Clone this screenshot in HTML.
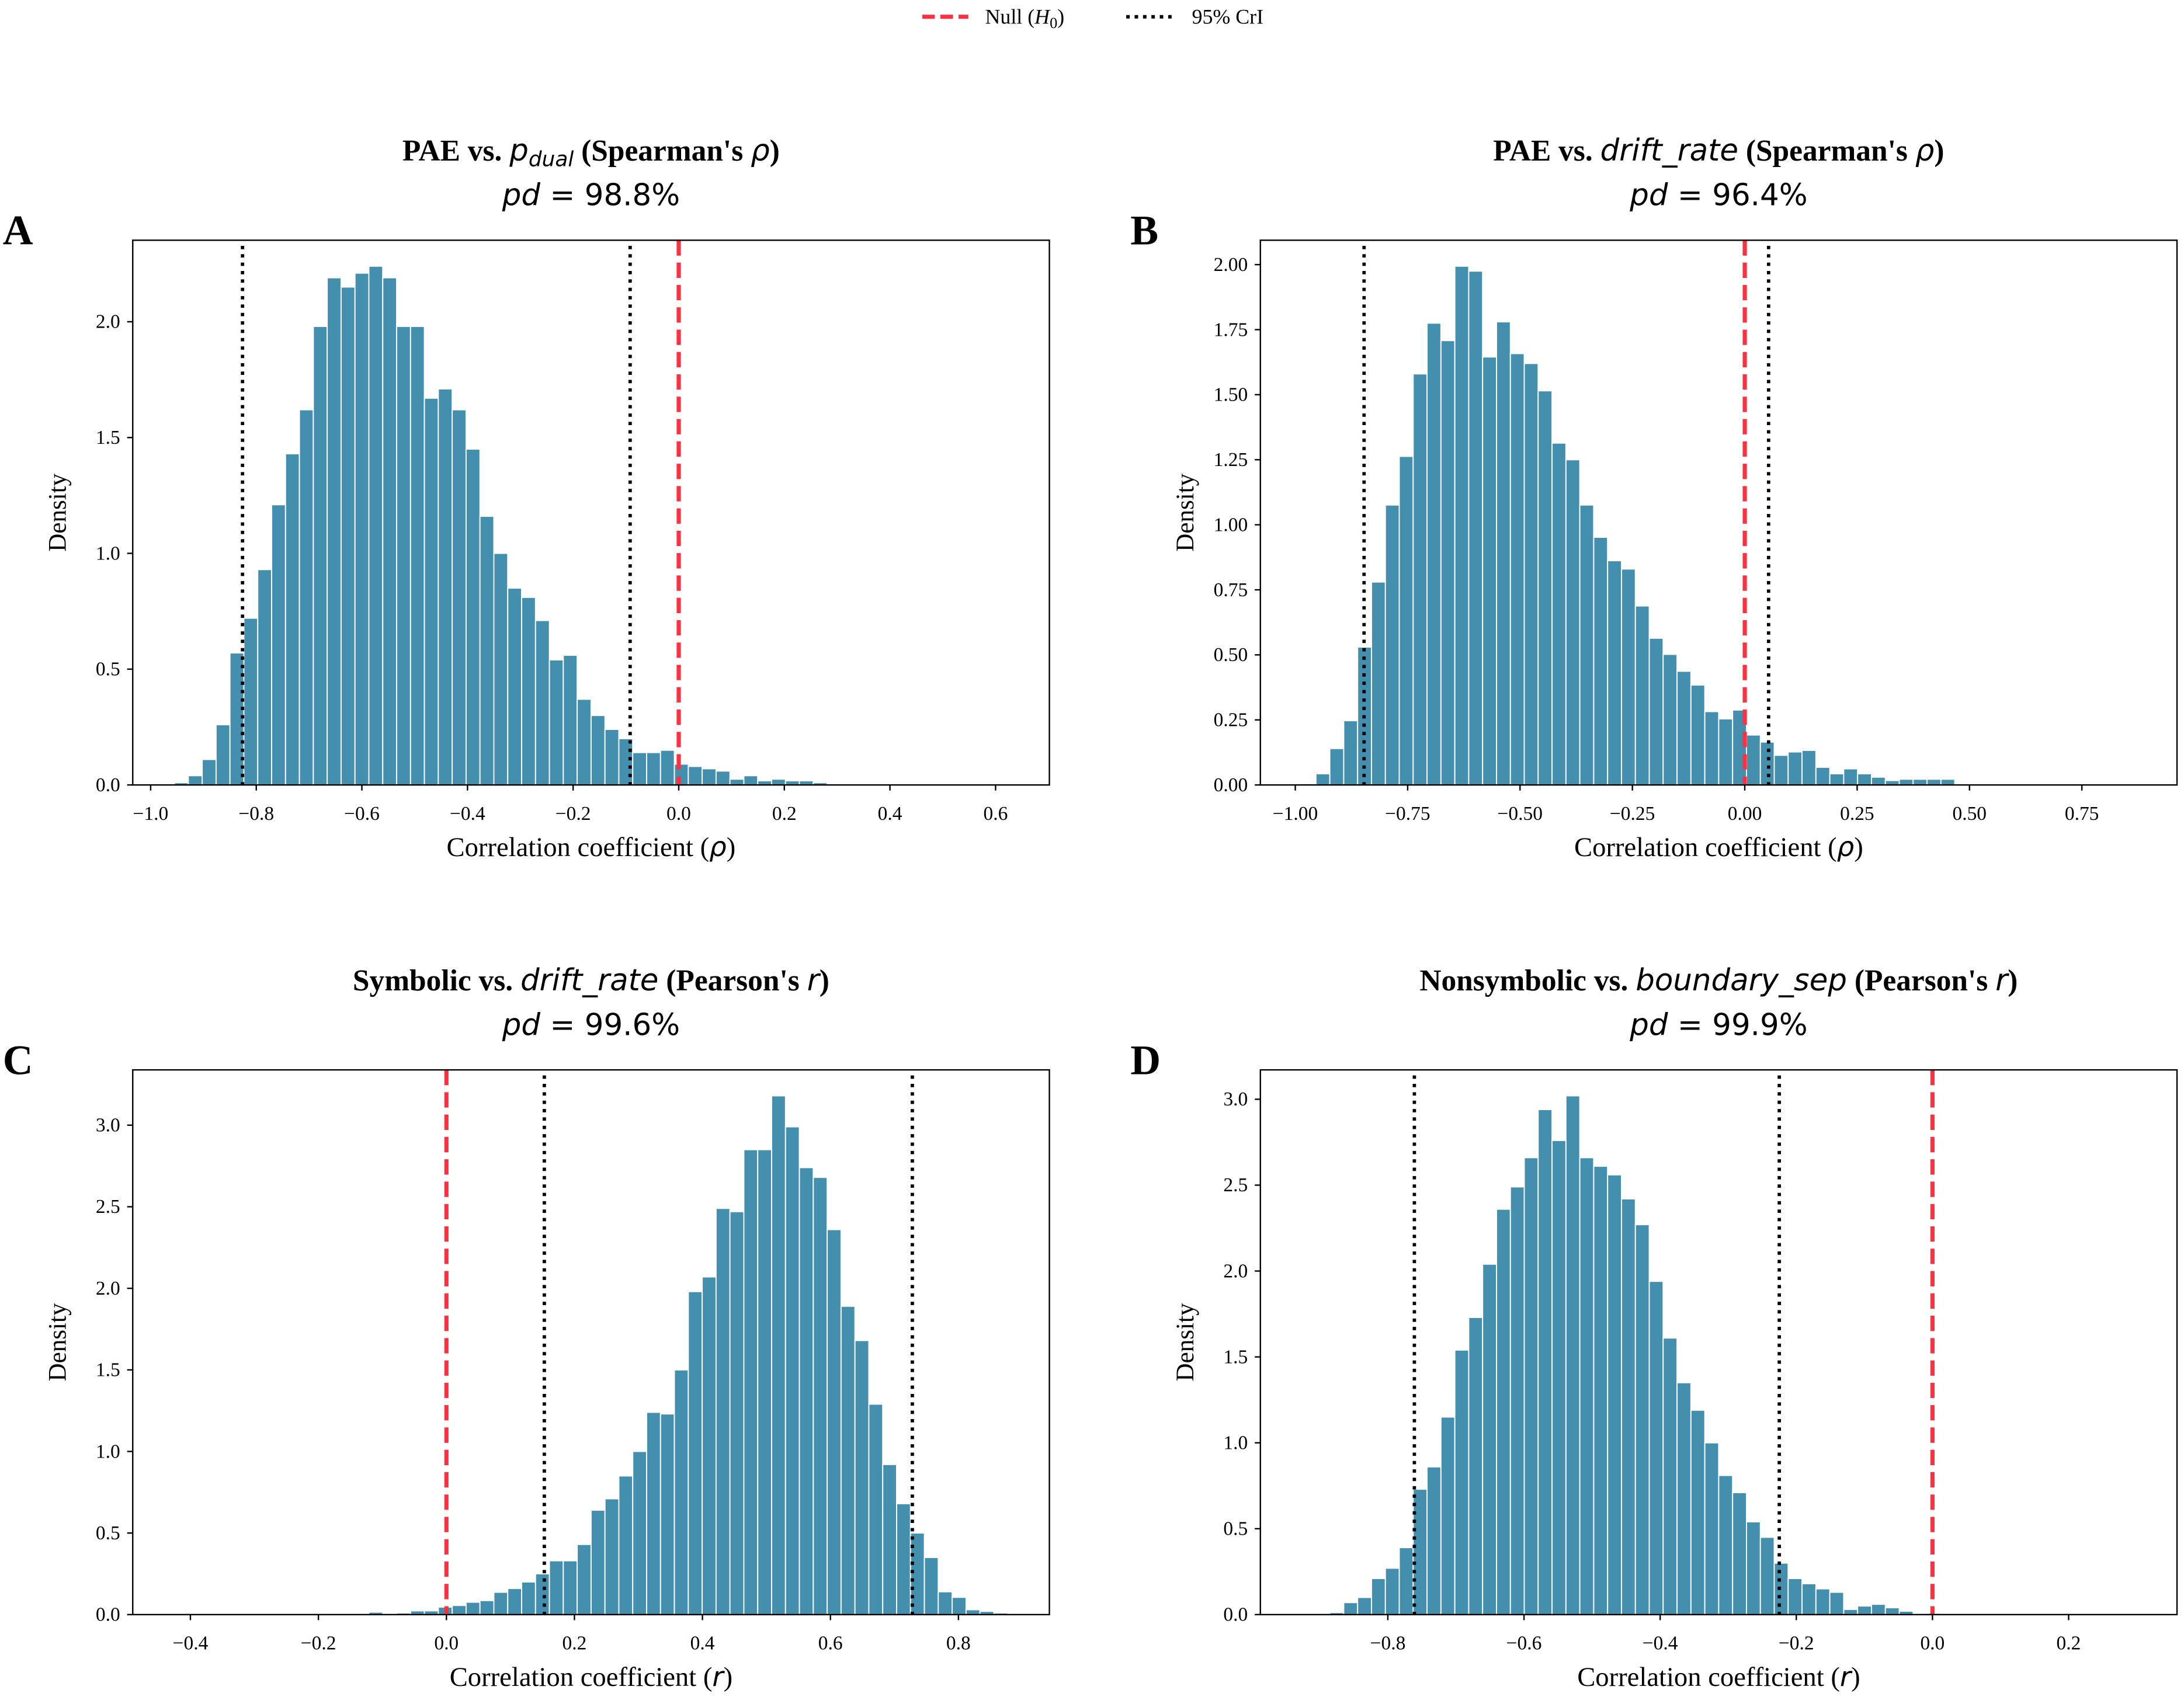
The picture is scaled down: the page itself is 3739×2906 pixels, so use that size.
<!DOCTYPE html>
<html><head><meta charset="utf-8">
<style>
html,body{margin:0;padding:0;background:#fff;}
svg{display:block;}
.tk{font-family:"Liberation Serif",serif;font-size:14px;fill:#000;}
.lab{font-family:"Liberation Serif",serif;font-size:19.5px;fill:#000;}
.leg{font-family:"Liberation Serif",serif;font-size:15px;fill:#000;}
.ttl{font-family:"Liberation Serif",serif;font-size:21.5px;font-weight:bold;fill:#000;}
.mt{font-family:"DejaVu Sans",sans-serif;font-weight:normal;font-style:italic;}
.pd{font-family:"DejaVu Sans",sans-serif;font-size:21.5px;fill:#000;}
.let{font-family:"Liberation Serif",serif;font-size:30px;font-weight:bold;fill:#000;}
</style></head>
<body>
<svg id="fig" width="3739" height="2906" viewBox="0 0 1563 1215" preserveAspectRatio="none" xmlns="http://www.w3.org/2000/svg">
<g>
  <line x1="660" y1="12" x2="693" y2="12" stroke="#ff3040" stroke-width="3" stroke-dasharray="9,4"/>
  <text x="705" y="17" class="leg">Null (<tspan font-style="italic">H</tspan><tspan font-size="11" dy="3">0</tspan><tspan dy="-3">)</tspan></text>
  <line x1="806" y1="12" x2="840" y2="12" stroke="#000" stroke-width="2.5" stroke-dasharray="2.5,3.5"/>
  <text x="853" y="17" class="leg">95% CrI</text>
</g>
</svg>
<script>
// Panel A
const aBinStart = -0.955;
const aBinWidth = 0.0263;
const aHeights = [0.01,0.04,0.11,0.26,0.57,0.72,0.93,1.21,1.43,1.62,1.98,2.19,2.15,2.21,2.24,2.19,1.98,1.98,1.67,1.71,1.62,1.45,1.16,1.00,0.85,0.81,0.71,0.54,0.56,0.37,0.30,0.24,0.20,0.14,0.14,0.15,0.09,0.08,0.07,0.06,0.025,0.04,0.018,0.025,0.018,0.018,0.01,0.003,0.003,0,0.003,0.002,0,0,0,0,0,0,0,0.003];
const aCri = [-0.826, -0.092];
const aXTicks = [-1.0,-0.8,-0.6,-0.4,-0.2,0.0,0.2,0.4,0.6];
const aYTicks = [0,0.5,1.0,1.5,2.0];
// Panel B
const bBinStart = -0.985;
const bBinWidth = 0.0309;
const bHeights = [0.005,0.043,0.14,0.247,0.53,0.78,1.076,1.263,1.58,1.775,1.708,1.994,1.975,1.645,1.78,1.658,1.62,1.515,1.314,1.25,1.076,0.952,0.862,0.83,0.688,0.564,0.502,0.437,0.384,0.282,0.254,0.288,0.192,0.165,0.114,0.127,0.133,0.068,0.043,0.062,0.043,0.03,0.017,0.022,0.022,0.022,0.022,0.003,0.003,0.003,0,0,0,0,0,0,0,0,0,0.003];
const bCri = [-0.847, 0.053];
const bXTicks = [-1.0,-0.75,-0.5,-0.25,0.0,0.25,0.5,0.75];
const bYTicks = [0,0.25,0.5,0.75,1.0,1.25,1.5,1.75,2.0];
// Panel C
const cBinStart = -0.425;
const cBinWidth = 0.0217;
const cHeights = [0.002,0,0,0,0,0,0,0,0,0,0,0.003,0,0,0.015,0.003,0.01,0.023,0.023,0.046,0.056,0.076,0.086,0.137,0.16,0.20,0.25,0.33,0.33,0.43,0.64,0.71,0.85,1.0,1.24,1.23,1.50,1.98,2.07,2.49,2.47,2.85,2.85,3.18,2.99,2.74,2.68,2.36,1.89,1.68,1.29,0.92,0.68,0.50,0.35,0.14,0.106,0.03,0.02,0.01];
const cCri = [0.153, 0.728];
const cXTicks = [-0.4,-0.2,0.0,0.2,0.4,0.6,0.8];
const cYTicks = [0,0.5,1.0,1.5,2.0,2.5,3.0];
// Panel D
const dBinStart = -0.926;
const dBinWidth = 0.0204;
const dHeights = [0.003,0.004,0.012,0.07,0.10,0.21,0.27,0.39,0.73,0.86,1.15,1.54,1.73,2.04,2.36,2.49,2.66,2.94,2.76,3.02,2.66,2.61,2.56,2.42,2.27,1.94,1.61,1.35,1.19,1.00,0.81,0.71,0.54,0.45,0.30,0.21,0.18,0.15,0.13,0.03,0.05,0.06,0.04,0.02,0.002,0.008,0.003,0.003,0.002,0.002,0,0,0,0,0,0,0,0,0,0.002];
const dCri = [-0.761, -0.225];
const dXTicks = [-0.8,-0.6,-0.4,-0.2,0.0,0.2];
const dYTicks = [0,0.5,1.0,1.5,2.0,2.5,3.0];

const NS = 'http://www.w3.org/2000/svg';
const svg = document.getElementById('fig');
function mk(tag, attrs, parent){
  const e = document.createElementNS(NS, tag);
  for (const k in attrs) e.setAttribute(k, attrs[k]);
  parent.appendChild(e);
  return e;
}
function fmt(v, dec){ const s = Math.abs(v).toFixed(dec); return (v < -1e-9 ? '\u2212' : '') + s; }

function panel(p){
  const g = mk('g', {}, svg);
  
  
  const n = p.heights.length;
  const dmin = p.start, dmax = p.start + n * p.width, span = dmax - dmin;
  const xmin = dmin - 0.05 * span, xmax = dmax + 0.05 * span;
  const ymax = 1.05 * Math.max(...p.heights);
  const X = v => p.x0 + (v - xmin) / (xmax - xmin) * (p.x1 - p.x0);
  const Y = v => p.y1 - v / ymax * (p.y1 - p.y0);
  for (let i = 0; i < n; i++){
    const h = p.heights[i];
    if (h <= 0) continue;
    const r = mk('rect', {x: X(p.start + i * p.width), y: Y(h), width: X(p.start + (i+1) * p.width) - X(p.start + i * p.width), height: Y(0) - Y(h), fill: '#458fae', stroke: '#ffffff', 'stroke-width': 0.8}, g);
    
    
  }
  p.cri.forEach(c => {
    const l = mk('line', {x1: X(c), x2: X(c), y1: p.y0 + 4, y2: p.y1, stroke: '#000', 'stroke-width': 2.4, 'stroke-dasharray': '2.4,3.6'}, g);
    
    
  });
  const nl = mk('line', {x1: X(0), x2: X(0), y1: p.y0, y2: p.y1, stroke: '#ff3040', 'stroke-width': 3, 'stroke-dasharray': '11,5'}, g);
  
  
  const fr = mk('rect', {x: p.x0, y: p.y0, width: p.x1 - p.x0, height: p.y1 - p.y0, fill: 'none', stroke: '#000', 'stroke-width': 1}, g);
  
  
  p.xticks.forEach(t => {
    mk('line', {x1: X(t), x2: X(t), y1: p.y1, y2: p.y1 + 4, stroke: '#000', 'stroke-width': 1}, g);
    const tx = mk('text', {x: X(t), y: p.y1 + 25, 'text-anchor': 'middle', class: 'tk'}, g);
    tx.textContent = fmt(t, p.xdec);
    
    
  });
  p.yticks.forEach(t => {
    mk('line', {x1: p.x0 - 4, x2: p.x0, y1: Y(t), y2: Y(t), stroke: '#000', 'stroke-width': 1}, g);
    const ty = mk('text', {x: p.x0 - 9, y: Y(t) + 4.5, 'text-anchor': 'end', class: 'tk'}, g);
    ty.textContent = fmt(t, p.ydec);
    
    
  });
  const cx = (p.x0 + p.x1) / 2, cy = (p.y0 + p.y1) / 2;
  const xl = mk('text', {x: cx, y: p.y1 + 51, 'text-anchor': 'middle', class: 'lab'}, g);
  xl.innerHTML = 'Correlation coefficient (<tspan class="mt">' + p.sym + '</tspan>)';
  
  
  const yl = mk('text', {x: 0, y: 0, 'text-anchor': 'middle', class: 'lab', style: 'font-size:18px', transform: 'translate(' + (p.x0 - 48) + ',' + cy + ') rotate(-90)'}, g);
  yl.textContent = 'Density';
  
  
  const t1 = mk('text', {x: cx, y: p.y0 - 57, 'text-anchor': 'middle', class: 'ttl'}, g);
  t1.innerHTML = p.title;
  
  
  const t2 = mk('text', {x: cx, y: p.y0 - 25, 'text-anchor': 'middle', class: 'pd'}, g);
  t2.innerHTML = '<tspan font-style="italic">pd</tspan> = ' + p.pd;
  
  
  const lt = mk('text', {x: p.x0 - 93, y: p.y0 + 3, class: 'let'}, g);
  lt.textContent = p.id.toUpperCase();
  
  
}

panel({id:'a', x0:95, x1:751, y0:172, y1:562, start:aBinStart, width:aBinWidth, heights:aHeights, cri:aCri, xticks:aXTicks, yticks:aYTicks, xdec:1, ydec:1, sym:'ρ', pd:'98.8%',
  title:'PAE vs. <tspan class="mt">p</tspan><tspan class="mt" font-size="15" dy="4">dual</tspan><tspan dy="-4"> (Spearman\'s </tspan><tspan class="mt">ρ</tspan>)'});
panel({id:'b', x0:902, x1:1558, y0:172, y1:562, start:bBinStart, width:bBinWidth, heights:bHeights, cri:bCri, xticks:bXTicks, yticks:bYTicks, xdec:2, ydec:2, sym:'ρ', pd:'96.4%',
  title:'PAE vs. <tspan class="mt">drift_rate</tspan> (Spearman\'s <tspan class="mt">ρ</tspan>)'});
panel({id:'c', x0:95, x1:751, y0:766, y1:1156, start:cBinStart, width:cBinWidth, heights:cHeights, cri:cCri, xticks:cXTicks, yticks:cYTicks, xdec:1, ydec:1, sym:'r', pd:'99.6%',
  title:'Symbolic vs. <tspan class="mt">drift_rate</tspan> (Pearson\'s <tspan class="mt">r</tspan>)'});
panel({id:'d', x0:902, x1:1558, y0:766, y1:1156, start:dBinStart, width:dBinWidth, heights:dHeights, cri:dCri, xticks:dXTicks, yticks:dYTicks, xdec:1, ydec:1, sym:'r', pd:'99.9%',
  title:'Nonsymbolic vs. <tspan class="mt">boundary_sep</tspan> (Pearson\'s <tspan class="mt">r</tspan>)'});
</script>
</body></html>
